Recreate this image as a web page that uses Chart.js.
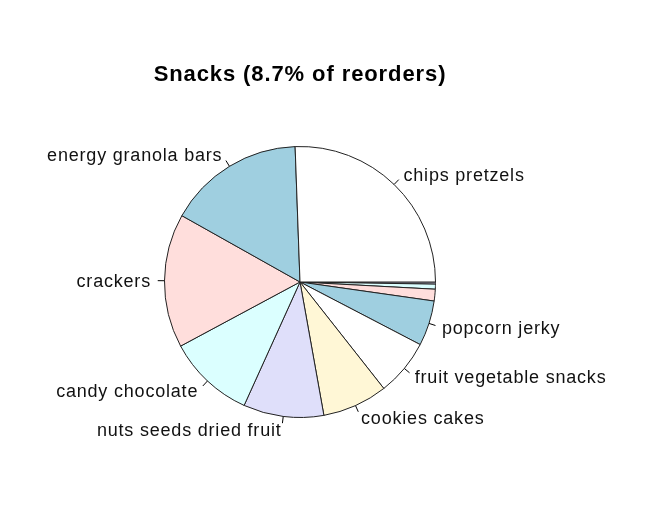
<!DOCTYPE html>
<html lang="en">
<head>
    <meta charset="utf-8">
    <script src="https://cdn.jsdelivr.net/npm/chart.js"></script>
    <title>Snacks</title>
    <style>
        html, body { margin: 0; padding: 0; background: #fff; }
        #wrap { width: 647px; height: 506px; position: relative; }
    </style>
</head>
<body>
<div id="wrap"><canvas id="pieChart"></canvas></div>
<script>
    // Aisle shares in R pie order (counter-clockwise from 3 o'clock)
    const categories = ['chips pretzels', 'energy granola bars', 'crackers', 'candy chocolate',
        'nuts seeds dried fruit', 'cookies cakes', 'fruit vegetable snacks', 'popcorn jerky', '', '', ''];
    const shares = [25.6, 16.3, 16.0, 10.4, 9.6, 7.8, 6.75, 5.4, 1.4, 0.6, 0.25];
    const sliceColors = ['#ffffff', '#9fcfe0', '#ffdedc', '#dbffff', '#dfdffa', '#fff7d6',
        '#ffffff', '#9fcfe0', '#ffdedc', '#dbffff', '#dfdffa'];
    const titleText = 'Snacks (8.7% of reorders)';

    // Chart.js goes clockwise, so feed it reversed and start at 3 o'clock
    const labelsRev = categories.slice().reverse();
    const valuesRev = shares.slice().reverse();
    const colorsRev = sliceColors.slice().reverse();

    const FONT = '"Liberation Sans", Arial, Helvetica, sans-serif';

    const rLabels = {
        id: 'rLabels',
        afterDatasetsDraw(chart) {
            const ctx = chart.ctx;
            const meta = chart.getDatasetMeta(0);
            ctx.save();
            ctx.strokeStyle = '#000';
            ctx.lineWidth = 1;
            ctx.fillStyle = '#111';
            ctx.font = '18px ' + FONT;
            ctx.letterSpacing = '0.8px';
            ctx.textBaseline = 'middle';
            meta.data.forEach((arc, i) => {
                const text = labelsRev[i];
                if (!text) return;
                const mid = (arc.startAngle + arc.endAngle) / 2;
                const r = arc.outerRadius;
                const c = Math.cos(mid), s = Math.sin(mid);
                ctx.beginPath();
                ctx.moveTo(arc.x + c * r, arc.y + s * r);
                ctx.lineTo(arc.x + c * r * 1.05, arc.y + s * r * 1.05);
                ctx.stroke();
                ctx.textAlign = c >= 0 ? 'left' : 'right';
                ctx.fillText(text, arc.x + c * r * 1.1, arc.y + s * r * 1.1 + 1);
            });
            ctx.font = 'bold 22px ' + FONT;
            ctx.letterSpacing = '0.9px';
            ctx.textAlign = 'center';
            ctx.fillStyle = '#000';
            ctx.fillText(titleText, 300, 75);
            ctx.restore();
        }
    };

    new Chart(document.getElementById('pieChart'), {
        type: 'pie',
        data: {
            labels: labelsRev,
            datasets: [{
                data: valuesRev,
                backgroundColor: colorsRev,
                borderColor: '#222',
                borderWidth: 1
            }]
        },
        options: {
            responsive: true,
            maintainAspectRatio: false,
            animation: false,
            rotation: 90,
            layout: { padding: { left: 164, right: 211, top: 146, bottom: 88 } },
            plugins: {
                legend: { display: false },
                tooltip: { enabled: false }
            }
        },
        plugins: [rLabels]
    });
</script>
</body>
</html>
